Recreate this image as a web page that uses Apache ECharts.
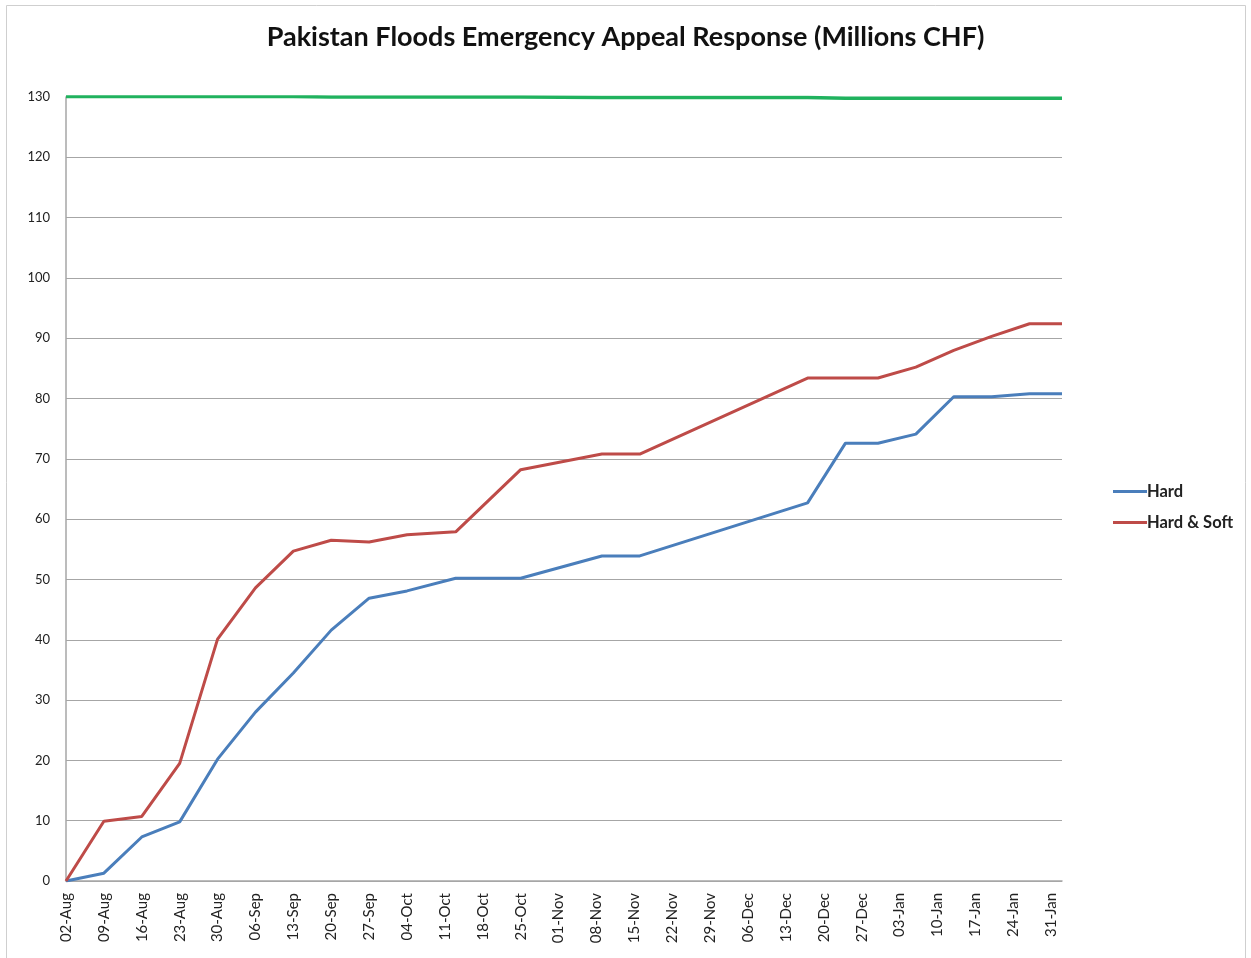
<!DOCTYPE html>
<html>
<head>
<meta charset="utf-8">
<title>Pakistan Floods Emergency Appeal Response</title>
<script src="https://cdn.jsdelivr.net/npm/echarts@6/dist/echarts.min.js"></script>
<style>
  html, body { margin: 0; padding: 0; background: #ffffff; }
  #chart { width: 1251px; height: 958px; }
</style>
</head>
<body>
<div id="chart"></div>
<script>
// Reporting dates (start of the appeal is 2010-08-02)
var startDate = '2010-08-02';
var reportDates = [
  '2010-08-02', '2010-08-09', '2010-08-16', '2010-08-23', '2010-08-30',
  '2010-09-06', '2010-09-13', '2010-09-20', '2010-09-27', '2010-10-04',
  '2010-10-13', '2010-10-25', '2010-11-09', '2010-11-16', '2010-12-17',
  '2010-12-24', '2010-12-30', '2011-01-06', '2011-01-13', '2011-01-20',
  '2011-01-27', '2011-02-02'
];

// Contributions received, millions CHF
var hard = [
  0, 1.3, 7.3, 9.8, 20.2, 28.0, 34.5, 41.6, 46.9, 48.1,
  50.2, 50.2, 53.9, 53.9, 62.7, 72.6, 72.6, 74.1, 80.3, 80.3,
  80.8, 80.8
];
var hardAndSoft = [
  0, 9.9, 10.7, 19.5, 40.1, 48.6, 54.7, 56.5, 56.2, 57.4,
  57.9, 68.2, 70.8, 70.8, 83.4, 83.4, 83.4, 85.2, 88.0, 90.3,
  92.4, 92.4
];
// Appeal budget, millions CHF
var appealBudget = [
  130.1, 130.1, 130.1, 130.1, 130.1, 130.1, 130.1, 130.0, 130.0, 130.0,
  130.0, 130.0, 129.9, 129.9, 129.9, 129.8, 129.8, 129.8, 129.8, 129.8,
  129.8, 129.8
];

// Weekly axis labels
var weekLabels = [
  '02-Aug', '09-Aug', '16-Aug', '23-Aug', '30-Aug',
  '06-Sep', '13-Sep', '20-Sep', '27-Sep',
  '04-Oct', '11-Oct', '18-Oct', '25-Oct',
  '01-Nov', '08-Nov', '15-Nov', '22-Nov', '29-Nov',
  '06-Dec', '13-Dec', '20-Dec', '27-Dec',
  '03-Jan', '10-Jan', '17-Jan', '24-Jan', '31-Jan'
];
var yTicks = [0, 10, 20, 30, 40, 50, 60, 70, 80, 90, 100, 110, 120, 130];

var DAY = 86400000;
function dayOffset(d) {
  return Math.round((Date.parse(d) - Date.parse(startDate)) / DAY);
}
function pairs(values) {
  return reportDates.map(function (d, i) { return [dayOffset(d), values[i]]; });
}
var lastDay = dayOffset(reportDates[reportDates.length - 1]);

var chart = echarts.init(document.getElementById('chart'));
chart.setOption({
  backgroundColor: '#ffffff',
  animation: false,
  title: {
    text: 'Pakistan Floods Emergency Appeal Response (Millions CHF)',
    left: 'center',
    top: 19,
    textStyle: {
      fontFamily: 'Lato',
      fontSize: 27,
      fontWeight: 'bold',
      color: '#111111'
    }
  },
  legend: {
    data: ['Hard', 'Hard & Soft'],
    orient: 'vertical',
    left: 1113,
    top: 483,
    padding: 0,
    itemGap: 14,
    itemWidth: 34,
    itemHeight: 3,
    icon: 'rect',
    textStyle: {
      fontFamily: 'Lato',
      fontSize: 16.5,
      fontWeight: 'bold',
      color: '#222222',
      padding: [0, 0, 0, -5]
    }
  },
  graphic: [{
    type: 'rect',
    shape: { x: 6.5, y: 5.5, width: 1239, height: 960 },
    style: { fill: 'none', stroke: '#cfcfcf', lineWidth: 1 },
    silent: true
  }],
  grid: { left: 66, right: 189, top: 97, bottom: 77 },
  xAxis: {
    type: 'value',
    min: 0,
    max: lastDay,
    interval: 7,
    axisLine: { show: true, lineStyle: { color: '#a6a6a6', width: 1.5 } },
    axisTick: { show: false },
    splitLine: { show: false },
    axisLabel: {
      rotate: 90,
      margin: 12,
      fontFamily: 'Lato',
      fontSize: 15,
      color: '#222222',
      showMaxLabel: false,
      formatter: function (v) {
        var i = v / 7;
        return (i === Math.floor(i) && weekLabels[i]) ? weekLabels[i] : '';
      }
    }
  },
  yAxis: {
    type: 'value',
    min: yTicks[0],
    max: yTicks[yTicks.length - 1],
    interval: 10,
    axisLine: { show: true, lineStyle: { color: '#a6a6a6', width: 1.5 } },
    axisTick: { show: false },
    splitLine: { show: true, lineStyle: { color: '#a6a6a6', width: 1.2 } },
    axisLabel: {
      margin: 16,
      fontFamily: 'Lato',
      fontSize: 13,
      color: '#222222'
    }
  },
  series: [
    {
      name: 'Appeal',
      type: 'line',
      data: pairs(appealBudget),
      showSymbol: false,
      lineStyle: { color: '#20b25e', width: 3.5 },
      itemStyle: { color: '#20b25e' },
      z: 3
    },
    {
      name: 'Hard',
      type: 'line',
      data: pairs(hard),
      showSymbol: false,
      lineStyle: { color: '#4a7ebb', width: 3 },
      itemStyle: { color: '#4a7ebb' },
      z: 4
    },
    {
      name: 'Hard & Soft',
      type: 'line',
      data: pairs(hardAndSoft),
      showSymbol: false,
      lineStyle: { color: '#be4b48', width: 3 },
      itemStyle: { color: '#be4b48' },
      z: 5
    }
  ]
});
</script>
</body>
</html>
